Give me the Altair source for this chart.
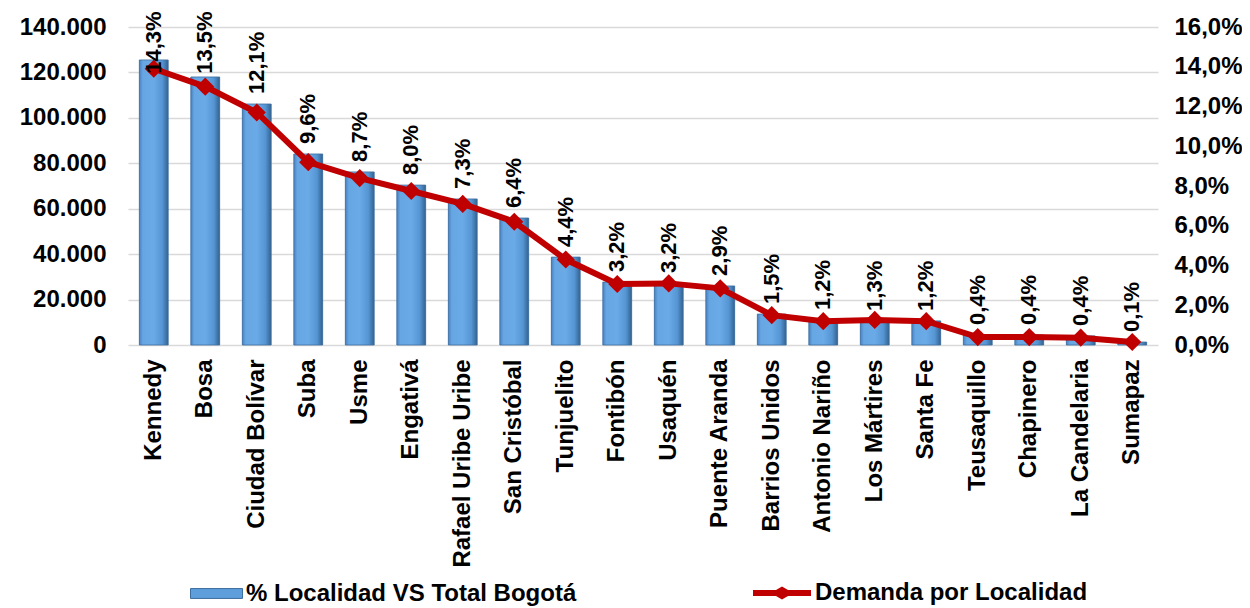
import altair as alt
import pandas as pd

# ---- data ----
localidades = ["Kennedy", "Bosa", "Ciudad Bolívar", "Suba", "Usme", "Engativá",
               "Rafael Uribe Uribe", "San Cristóbal", "Tunjuelito", "Fontibón",
               "Usaquén", "Puente Aranda", "Barrios Unidos", "Antonio Nariño",
               "Los Mártires", "Santa Fe", "Teusaquillo", "Chapinero",
               "La Candelaria", "Sumapaz"]
barras = [125500, 118000, 106100, 84100, 76200, 70400, 64300, 55900, 38700, 27700,
          27300, 26000, 13600, 11000, 10600, 10600, 4400, 4400, 4000, 1300]
demanda = [0.139, 0.130, 0.117, 0.092, 0.084, 0.0775, 0.071, 0.062, 0.043, 0.0307,
           0.031, 0.0285, 0.015, 0.012, 0.0126, 0.012, 0.004, 0.004, 0.0037, 0.0015]
etiquetas = ["14,3%", "13,5%", "12,1%", "9,6%", "8,7%", "8,0%", "7,3%", "6,4%",
             "4,4%", "3,2%", "3,2%", "2,9%", "1,5%", "1,2%", "1,3%", "1,2%",
             "0,4%", "0,4%", "0,4%", "0,1%"]
left_ticks = [0, 20000, 40000, 60000, 80000, 100000, 120000, 140000]
right_ticks = [0, 0.02, 0.04, 0.06, 0.08, 0.10, 0.12, 0.14, 0.16]
serie_barras = "% Localidad VS Total Bogotá"
serie_linea = "Demanda por Localidad"

df = pd.DataFrame({
    "loc": localidades,
    "bar": barras,
    "dem": demanda,
    "lab": etiquetas,
    "s1": serie_barras,
    "s2": serie_linea,
})

FONT = "Liberation Sans"
RED = "#C00000"
LEFT_DOMAIN = [0, 140000]
RIGHT_DOMAIN = [0, 0.16]

x = alt.X("loc:N", sort=localidades, title=None,
          scale=alt.Scale(paddingInner=0.44, paddingOuter=0.22),
          axis=alt.Axis(labelAngle=-90, labelFont=FONT, labelFontSize=24,
                        labelFontWeight="bold", labelColor="black", labelLimit=400,
                        labelPadding=14, ticks=False, domain=False, grid=False))

yleft = alt.Y("bar:Q", title=None,
              scale=alt.Scale(domain=LEFT_DOMAIN, nice=False),
              axis=alt.Axis(values=left_ticks, labelFont=FONT, labelFontSize=24,
                            labelFontWeight="bold", labelColor="black",
                            labelPadding=22, ticks=False, domain=False,
                            grid=True, gridColor="#D9D9D9", gridWidth=1.5,
                            labelExpr="replace(format(datum.value, ','), ',', '.')"))

bar_gradient = alt.Gradient(
    gradient="linear", x1=0, x2=1, y1=0, y2=0,
    stops=[alt.GradientStop(color="#4A80BF", offset=0),
           alt.GradientStop(color="#66A6E3", offset=0.12),
           alt.GradientStop(color="#6AAAE7", offset=0.5),
           alt.GradientStop(color="#5595D3", offset=0.8),
           alt.GradientStop(color="#33628F", offset=1)])

bars_legend = alt.Chart(df).mark_bar().encode(
    x=x, y=yleft,
    color=alt.Color("s1:N", scale=alt.Scale(domain=[serie_barras], range=["#5E9EDB"]),
                    legend=alt.Legend(title=None, orient="none", legendX=62, legendY=540,
                                      padding=0,
                                      symbolType="M-1,-0.19H1V0.19H-1Z", symbolSize=2704,
                                      symbolStrokeColor="#3C6E9F", symbolStrokeWidth=1,
                                      symbolOpacity=1,
                                      labelFont=FONT, labelFontSize=24,
                                      labelFontWeight="bold", labelColor="black",
                                      labelOffset=3, labelLimit=600)))

bars = alt.Chart(df).mark_bar(color=bar_gradient, stroke="#3F6F9F", strokeWidth=0.8).encode(
    x=x, y=alt.Y("bar:Q", scale=alt.Scale(domain=LEFT_DOMAIN, nice=False), axis=None)
)

yright = alt.Y("dem:Q", title=None,
               scale=alt.Scale(domain=RIGHT_DOMAIN, nice=False),
               axis=alt.Axis(orient="right", values=right_ticks, labelFont=FONT,
                             labelFontSize=24, labelFontWeight="bold",
                             labelColor="black", labelPadding=16, ticks=False,
                             domain=False, grid=False,
                             labelExpr="replace(format(datum.value, '.1%'), '.', ',')"))

line = alt.Chart(df).mark_line(color=RED, strokeWidth=6).encode(x=x, y=yright)

points = alt.Chart(df).mark_point(shape="diamond", filled=True, size=330, opacity=1).encode(
    x=x, y=alt.Y("dem:Q", scale=alt.Scale(domain=RIGHT_DOMAIN, nice=False), axis=None),
    fill=alt.Fill("s2:N", scale=alt.Scale(domain=[serie_linea], range=[RED]),
                  legend=alt.Legend(title=None, orient="none", legendX=625, legendY=537,
                                    padding=0,
                                    symbolType="M-1,-0.105H-0.207L0,-0.224L0.207,-0.105H1V0.105H0.207L0,0.224L-0.207,0.105H-1Z",
                                    symbolSize=3364, symbolStrokeWidth=0,
                                    symbolOpacity=1,
                                    labelFont=FONT, labelFontSize=24,
                                    labelFontWeight="bold", labelColor="black",
                                    labelOffset=4, labelLimit=600)))

labels = alt.Chart(df).transform_calculate(
    lp="min(datum.bar, 115000)"
).mark_text(angle=270, align="left", baseline="middle", dx=10,
            font=FONT, fontSize=22, fontWeight="bold", color="black").encode(
    x=x, y=alt.Y("lp:Q", scale=alt.Scale(domain=LEFT_DOMAIN, nice=False), axis=None),
    text="lab:N")

chart = alt.layer(bars_legend, bars, line, points, labels).resolve_scale(
    y="independent", color="independent", fill="independent"
).properties(
    width=1030, height=318,
    autosize=alt.AutoSizeParams(type="none"),
    padding={"left": 120, "top": 19, "right": 84, "bottom": 262},
    background="white",
).configure_view(stroke=None)

chart.save("out.html", embed_options={"renderer": "svg", "actions": False})
